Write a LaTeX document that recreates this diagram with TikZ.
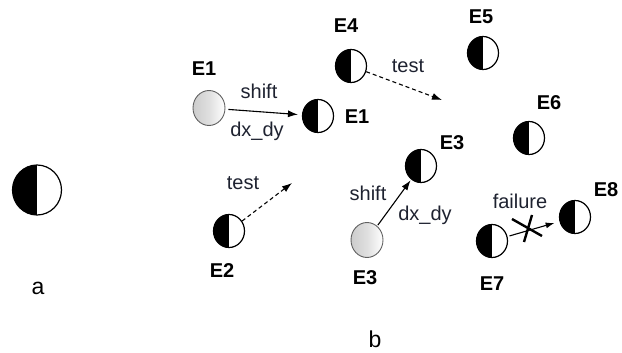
\documentclass[tikz,border=0pt]{standalone}
\usepackage{fontspec}
\setmainfont{Liberation Sans}
\usetikzlibrary{arrows.meta,shapes.geometric}
\definecolor{ink}{RGB}{30,34,48}
\begin{document}
\begin{tikzpicture}[x=1pt,y=-1pt,
  halfmoon/.style={ellipse,draw=black,line width=1.2pt,fill=white,inner sep=0pt,
    minimum width=31pt,minimum height=33pt,
    path picture={\fill[black] (path picture bounding box.south west) rectangle (path picture bounding box.north);}},
  bigmoon/.style={halfmoon,minimum width=49pt,minimum height=50pt},
  ghost/.style={ellipse,draw=gray!75!black,line width=0.9pt,inner sep=0pt,
    minimum width=32pt,minimum height=35pt,left color=gray!40,right color=white,middle color=gray!25},
  tag/.style={font=\bfseries\fontsize{20}{23}\selectfont,text=black,inner sep=0pt},
  word/.style={font=\fontsize{20}{23}\selectfont,text=ink,inner sep=0pt},
  letter/.style={font=\fontsize{23}{26}\selectfont,text=black,inner sep=0pt},
  move/.style={line width=1.1pt,-{Latex[length=10pt,width=7pt]}},
  probe/.style={line width=1.1pt,dash pattern=on 4pt off 3pt,-{Latex[length=10pt,width=7pt]}},
  cross/.style={line width=2.4pt,black}]
\useasboundingbox (0,0) rectangle (622,353);

% part a
\node[bigmoon] (A) at (37,190) {};
\node[letter] (la) at (38,288) {a};

% part b: agents
\node[ghost] (G1) at (209,108) {};
\node[tag] (lg1) at (204,69) {E1};
\node[halfmoon] (E1) at (318,116) {};
\node[tag] (l1) at (357,117) {E1};

\node[halfmoon] (E4) at (351,66) {};
\node[tag] (l4) at (346,26) {E4};

\node[halfmoon] (E5) at (483,53) {};
\node[tag] (l5) at (481,17) {E5};

\node[halfmoon] (E6) at (529,138) {};
\node[tag] (l6) at (549,103) {E6};

\node[halfmoon] (E3) at (421,166) {};
\node[tag] (l3) at (452,143) {E3};

\node[ghost] (G3) at (367,240) {};
\node[tag] (lg3) at (365,278) {E3};

\node[halfmoon] (E2) at (229,231) {};
\node[tag] (l2) at (222,271) {E2};

\node[halfmoon] (E7) at (492,241) {};
\node[tag] (l7) at (492,284) {E7};

\node[halfmoon] (E8) at (575,217) {};
\node[tag] (l8) at (606,190) {E8};

\node[letter] (lb) at (375,339) {b};

% shift moves
\draw[move,shorten <=3pt,shorten >=4pt] (G1) -- (E1);
\node[word] (s1) at (259,91) {shift};
\node[word] (d1) at (257,131) {dx\_dy};

\draw[move,shorten <=1pt,shorten >=1pt] (G3) -- (E3);
\node[word] (s3) at (368,193) {shift};
\node[word] (d3) at (425,215) {dx\_dy};

% test probes
\coordinate (t4) at (442,100);
\draw[probe] (E4) -- (t4);
\node[word] (w4) at (408,66) {test};

\coordinate (t2) at (292,183);
\draw[probe] (E2) -- (t2);
\node[word] (w2) at (243,183) {test};

% failed move, struck through
\draw[line width=1.1pt,-{Latex[length=9pt,width=6pt]},shorten <=2pt,shorten >=5pt] (E7) -- (E8);
\coordinate (X) at (527,229);
\draw[cross] ([shift={(-15,-10)}]X) -- ([shift={(15,7)}]X);
\draw[cross] ([shift={(5,-14)}]X) -- ([shift={(-3,13)}]X);
\node[word] (wf) at (520,201) {failure};
\end{tikzpicture}
\end{document}
